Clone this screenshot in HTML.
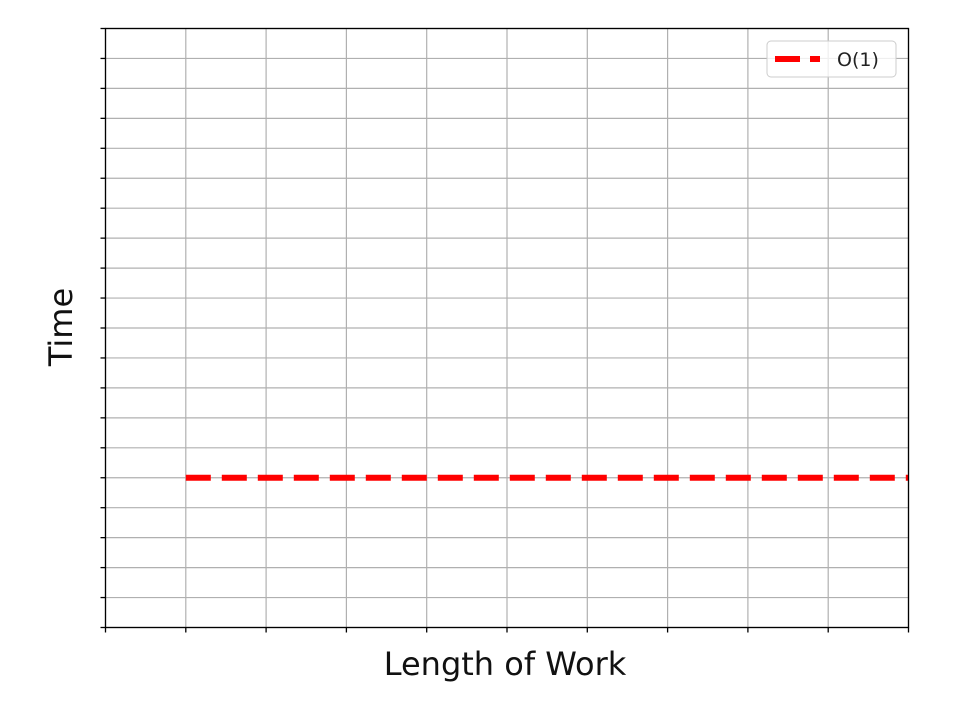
<!DOCTYPE html>
<html><head><meta charset="utf-8"><style>
html,body{margin:0;padding:0;background:#fff;}
svg{display:block;font-family:"DejaVu Sans","Liberation Sans",sans-serif;}
</style></head><body>
<svg id="chart" width="954" height="704" viewBox="0 0 954 704">
<g id="grid"></g>
<g id="ticks"></g>
<g id="series"></g>
<rect x="105.5" y="28.5" width="803" height="599" fill="none" stroke="#000" stroke-width="1.3"/>
<text x="505" y="675" font-size="32" text-anchor="middle" fill="#111">Length of Work</text>
<text transform="translate(72,327) rotate(-90)" font-size="32" text-anchor="middle" fill="#111">Time</text>
<g>
<rect x="767" y="41" width="129" height="36" rx="4" fill="#fff" fill-opacity="0.8" stroke="#ccc" stroke-width="1"/>
<line x1="775" y1="59" x2="820" y2="59" stroke="#ff0000" stroke-width="6" stroke-dasharray="25,10"/>
<text x="837" y="66" font-size="19" fill="#222">O(1)</text>
</g>
</svg>
<script>
const xTicks=[0,1,2,3,4,5,6,7,8,9,10];
const yTicks=[0,1,2,3,4,5,6,7,8,9,10,11,12,13,14,15,16,17,18,19,20];
const seriesX=[1,10];
const seriesY=[5,5];
const X0=105.5,X1=908.5,Y0=627.5,Y1=28.5;
const xs=v=>X0+(v-0)/(10-0)*(X1-X0);
const ys=v=>Y0-(v-0)/(20-0)*(Y0-Y1);
const NS='http://www.w3.org/2000/svg';
const grid=document.getElementById('grid'),ticks=document.getElementById('ticks'),series=document.getElementById('series');
function ln(p,x1,y1,x2,y2,st,w){const l=document.createElementNS(NS,'line');l.setAttribute('x1',x1);l.setAttribute('y1',y1);l.setAttribute('x2',x2);l.setAttribute('y2',y2);l.setAttribute('stroke',st);l.setAttribute('stroke-width',w);p.appendChild(l);return l;}
xTicks.forEach(v=>{const x=xs(v);
const g=ln(grid,x,Y1,x,Y0,'#b0b0b0',1.2);


const t=ln(ticks,x,Y0,x,Y0+5,'#000',1.3);


});
yTicks.forEach(v=>{const y=ys(v);
const g=ln(grid,X0,y,X1,y,'#b0b0b0',1.2);


const t=ln(ticks,X0-5,y,X0,y,'#000',1.3);


});
const pl=document.createElementNS(NS,'polyline');
pl.setAttribute('points',seriesX.map((x,i)=>xs(x)+','+ys(seriesY[i])).join(' '));
pl.setAttribute('fill','none');pl.setAttribute('stroke','#ff0000');pl.setAttribute('stroke-width','6');pl.setAttribute('stroke-dasharray','25,11');


series.appendChild(pl);
</script>
</body></html>
